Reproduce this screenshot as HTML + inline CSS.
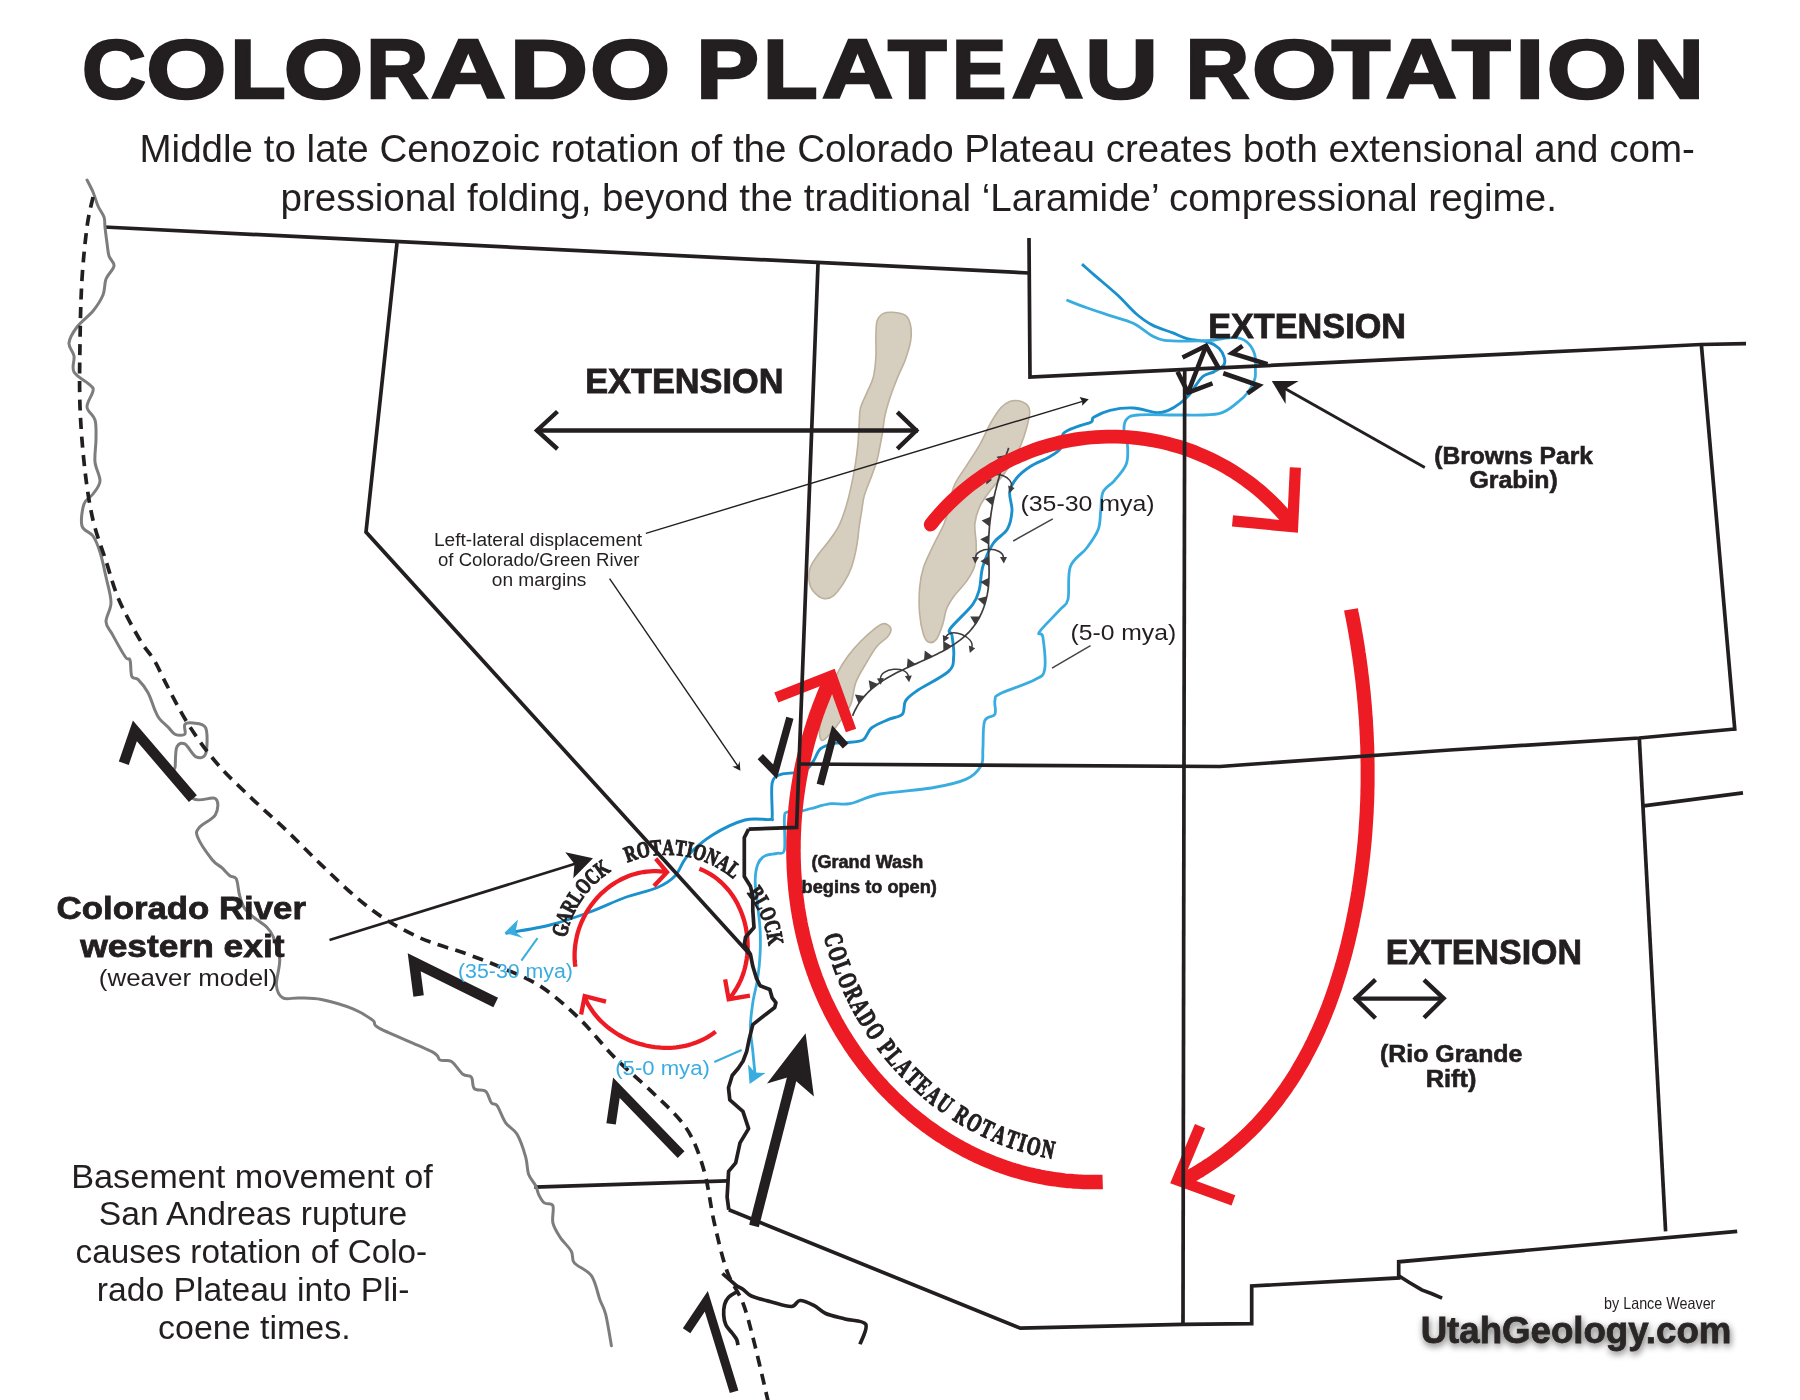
<!DOCTYPE html>
<html><head><meta charset="utf-8"><style>
html,body{margin:0;padding:0;background:#fff;}
svg{display:block;will-change:transform;}
</style></head><body>
<svg width="1800" height="1400" viewBox="0 0 1800 1400">
<defs>
<filter id="sh" x="-10%" y="-40%" width="120%" height="180%"><feGaussianBlur in="SourceAlpha" stdDeviation="3.5"/><feOffset dx="1" dy="3" result="b"/><feComponentTransfer><feFuncA type="linear" slope="0.55"/></feComponentTransfer><feMerge><feMergeNode/><feMergeNode in="SourceGraphic"/></feMerge></filter>
</defs>
<rect width="1800" height="1400" fill="#fff"/>
<path d="M892.6 312.3 C896.2 312.6 902.5 313.2 905.5 315.4 C908.5 317.6 909.8 321.4 910.6 325.7 C911.5 330 911.5 335.6 910.6 341.2 C909.8 346.8 907.6 353.2 905.5 359.2 C903.4 365.2 900.3 370.8 897.7 377.2 C895.1 383.6 892.1 391.3 890 397.7 C887.9 404.1 886.2 409.8 884.9 415.8 C883.6 421.8 883.6 426.5 882.3 433.8 C881 441.1 878.9 452.6 877.2 459.5 C875.5 466.4 874.1 468.9 872 474.9 C869.9 480.9 866 489.5 864.3 495.5 C862.6 501.5 862.6 505.8 861.7 510.9 C860.9 516 860.1 520.4 859.2 526.4 C858.4 532.4 857.9 540 856.6 546.9 C855.3 553.8 853.5 561.5 851.4 567.5 C849.2 573.5 846.7 578.2 843.7 582.9 C840.7 587.6 836.8 593.2 833.4 595.8 C830 598.4 826.6 599.2 823.2 598.4 C819.8 597.5 815.3 593.7 812.9 590.7 C810.5 587.7 809.4 584.3 809 580.4 C808.6 576.5 808.8 571.8 810.3 567.5 C811.8 563.2 815 559 818 554.7 C821 550.4 824.9 546.5 828.3 541.8 C831.7 537.1 835.6 532.4 838.6 526.4 C841.6 520.4 844.2 512.7 846.3 505.8 C848.4 498.9 849.9 492.1 851.4 485.2 C852.9 478.3 854.2 471.5 855.3 464.6 C856.4 457.8 857.2 451 857.9 444.1 C858.5 437.2 858.8 429.5 859.2 423.5 C859.6 417.5 859.2 413.1 860.5 408 C861.8 402.9 864.8 397.7 866.9 392.6 C869 387.5 871.8 383.2 873.3 377.2 C874.8 371.2 875.5 363.5 875.9 356.6 C876.3 349.7 875.7 342 875.9 336 C876.1 330 875.9 324.4 877.2 320.6 C878.5 316.8 881 314.8 883.6 313.4 C886.2 312 889 312 892.6 312.3 Z" fill="#d6cebf" stroke="#bdb09c" stroke-width="1.6" />
<path d="M1018.6 400.8 C1021.6 401.4 1025.9 403.4 1027.7 405.5 C1029.5 407.6 1029.9 409.3 1029.7 413.2 C1029.5 417.1 1027.8 423.5 1026.4 428.6 C1025 433.8 1023.4 439 1021.2 444.1 C1019.1 449.2 1016.5 454.4 1013.5 459.5 C1010.5 464.6 1007.1 469.8 1003.2 474.9 C999.4 480 994.2 485.2 990.4 490.4 C986.5 495.5 982.7 500.2 980.1 505.8 C977.5 511.4 975.5 517.4 974.9 523.8 C974.2 530.2 976.2 537.5 976.2 544.4 C976.2 551.3 976.4 559 974.9 565 C973.4 571 970.6 575.3 967.2 580.4 C963.8 585.5 957.7 591.1 954.3 595.8 C950.9 600.5 948.5 604 946.6 608.7 C944.7 613.4 944.5 619 942.8 624.1 C941.1 629.2 938.7 636.5 936.3 639.5 C933.9 642.5 930.7 643 928.6 642.1 C926.5 641.2 925 639.1 923.5 634.4 C922 629.7 920.2 621.5 919.6 613.8 C919 606.1 919 595.8 919.6 588.1 C920.2 580.4 921.1 574.8 923.5 567.5 C925.9 560.2 930.4 551.7 933.8 544.4 C937.2 537.1 941.5 530.2 944.1 523.8 C946.7 517.4 947.5 512.2 949.2 505.8 C950.9 499.4 951.3 492.1 954.3 485.2 C957.3 478.3 962.9 471.5 967.2 464.6 C971.5 457.8 976.2 451 980.1 444.1 C984 437.2 987 429.5 990.4 423.5 C993.8 417.5 997.4 411.6 1000.6 408 C1003.8 404.4 1006.6 402.8 1009.6 401.6 C1012.6 400.4 1015.6 400.2 1018.6 400.8 Z" fill="#d6cebf" stroke="#bdb09c" stroke-width="1.6" />
<path d="M887.5 624.6 C889 625.5 891 627.4 891 629.5 C891 631.6 889.8 634.2 887.5 637 C885.2 639.8 880.6 641.9 877.2 646 C873.8 650.1 870.5 655.8 867 661.8 C863.5 667.8 858.7 675 856 682 C853.3 689 853.4 697.3 851 703.6 C848.6 709.9 844.9 714.5 841.4 719.6 C837.9 724.7 833.2 730.5 830 734 C826.8 737.5 823.8 741.2 822 740.5 C820.2 739.8 819.3 734.8 819.5 730 C819.7 725.2 821.2 718.3 823 712 C824.8 705.7 827.5 698.7 830 692 C832.5 685.3 835 678 838 672 C841 666 844.3 661 848 656 C851.7 651 855.7 646.4 860 642 C864.3 637.6 869.9 632.6 873.6 629.6 C877.3 626.6 879.7 624.8 882 624 C884.3 623.2 886 623.7 887.5 624.6 Z" fill="#d6cebf" stroke="#bdb09c" stroke-width="1.6" />
<path d="M505.4 933.4 C512.8 932 535.9 928.6 550 925 C564.1 921.4 577.5 916.6 590 912 C602.5 907.4 613.8 901.6 625 897.5 C636.2 893.4 649.2 891.1 657.5 887.5 C665.8 883.9 670 881.2 675 876 C680 870.8 681.2 862.8 687.5 856 C693.8 849.2 702.9 841 712.5 835 C722.1 829 735.5 822.6 745 820 C754.5 817.4 765.3 820.2 769.8 819.5 C774.3 818.8 771.8 821.9 772.2 815.8 C772.6 809.7 770.7 789.8 772.2 782.9 C773.7 776 777 776 781.1 774.3 C785.2 772.6 792.3 773.5 796.6 772.6 C800.9 771.7 804 771.1 806.9 769.1 C809.8 767.1 811.4 764 813.7 760.6 C816 757.2 817.2 751.5 820.6 748.6 C824 745.7 830.1 744.4 834.3 743.4 C838.5 742.4 840.9 743.2 845.7 742.6 C850.5 742 858.6 742.4 862.9 740 C867.2 737.6 867.1 731.4 871.4 728 C875.7 724.6 883.5 721.7 888.6 719.4 C893.8 717.1 899.4 717.4 902.3 714.3 C905.1 711.2 903.1 704.6 905.7 700.6 C908.3 696.6 910.6 695.2 917.7 690.3 C924.9 685.4 942.6 677.1 948.6 671.4 C954.6 665.7 953.1 662 953.7 656 C954.3 650 952.6 640 952 635.4 C951.4 630.8 946.9 633.7 950.3 628.6 C953.7 623.5 967.8 611.2 972.6 604.6 C977.5 598 977.7 595.4 979.4 589.1 C981.1 582.8 980.5 574.3 982.8 566.7 C985.1 559.1 989.2 549.5 993.3 543.3 C997.4 537.1 1004.2 534.7 1007.3 529.3 C1010.4 523.9 1011.6 516.9 1012 510.7 C1012.4 504.5 1008.9 497.4 1009.7 492 C1010.5 486.6 1013.2 482.3 1016.7 478 C1020.2 473.7 1025.3 469.8 1030.7 466.3 C1036.1 462.8 1044.2 460.1 1049.3 457 C1054.3 453.9 1058.7 451.6 1061 447.7 C1063.3 443.8 1060.6 437.2 1063.3 433.7 C1066 430.2 1072.6 428.6 1077.3 426.7 C1082 424.8 1088.6 423.6 1091.3 422 C1094 420.4 1090.6 419.2 1093.7 417.3 C1096.8 415.4 1103.4 411.9 1110 410.3 C1116.6 408.8 1125.5 407.6 1133.3 408 C1141.1 408.4 1150.9 412.3 1156.7 412.7 C1162.5 413.1 1164.4 411.9 1168.3 410.3 C1172.2 408.7 1176.5 405.9 1180 403.3 C1183.5 400.7 1186.7 397.8 1189.3 394.9 C1191.9 391.9 1193.3 388.7 1195.6 385.6 C1197.9 382.5 1200.2 378.5 1203.3 376.2 C1206.4 373.9 1210.8 373.4 1214.2 371.6 C1217.6 369.8 1221.9 367.6 1223.6 365.3 C1225.3 363 1225.1 360.5 1224.3 357.6 C1223.5 354.8 1221.6 350.8 1218.9 348.2 C1216.2 345.6 1213.2 343.6 1208 342 C1202.8 340.4 1193.8 340.4 1187.8 338.9 C1181.8 337.3 1178.2 335 1172.2 332.7 C1166.2 330.4 1158 328 1152 324.9 C1146 321.8 1142.1 318.9 1136.4 314 C1130.7 309.1 1124.8 301.8 1117.8 295.3 C1110.8 288.8 1100.4 280.3 1094.4 275.1 C1088.4 269.9 1084.1 266 1082 264.2" fill="none" stroke="#1a90cd" stroke-width="2.9" stroke-linejoin="round"/>
<path d="M755.2 1076 C754.8 1071.9 753.6 1059.5 752.8 1051.3 C752 1043.1 750.4 1035.1 750.4 1027 C750.4 1018.9 751.6 1010.8 752.8 1002.7 C754 994.6 756.5 986.5 757.7 978.4 C758.9 970.3 759.7 962.3 760.1 954.2 C760.5 946.1 760.5 938 760.1 929.9 C759.7 921.8 758.5 913.7 757.7 905.6 C756.9 897.5 755.2 888.3 755.2 881.4 C755.2 874.5 756.1 868.6 757.7 864.4 C759.3 860.1 761.8 857.7 765 855.9 C768.2 854.1 773.9 854.4 777.1 853.4 C780.3 852.4 783.2 855.6 784.4 849.8 C785.6 843.9 784 824.6 784.4 818.3 C784.8 812 784 813.4 786.8 812.2 C789.6 811 797.3 811.6 801.4 811 C805.5 810.4 806.2 809.7 811.1 808.5 C816 807.3 824 804.5 830.5 803.7 C837 802.9 841.6 805.3 849.9 803.7 C858.1 802.1 866.4 796.6 880 794 C893.6 791.4 917.1 790.4 931.4 788 C945.7 785.6 957.4 783.1 965.7 779.4 C974 775.7 978.2 770.8 981.1 765.7 C984 760.6 982.3 756 982.9 748.6 C983.5 741.2 982.6 726.8 984.6 721.1 C986.6 715.4 993.2 717.7 994.9 714.3 C996.6 710.9 994 704 994.9 700.6 C995.8 697.2 993.4 697.1 1000 693.7 C1006.6 690.3 1026.9 684 1034.3 680 C1041.7 676 1043.2 676.9 1044.6 669.7 C1046 662.6 1043.8 643.4 1042.9 637.1 C1042 630.8 1036.6 636.6 1039.4 632 C1042.2 627.4 1055.2 615.2 1060 609.7 C1064.8 604.2 1066.3 606.5 1068 599.3 C1069.7 592.1 1067.2 575.2 1070.3 566.7 C1073.4 558.2 1082 554.2 1086.7 548 C1091.4 541.8 1096 535.5 1098.3 529.3 C1100.6 523.1 1099.9 516.9 1100.7 510.7 C1101.5 504.5 1100.7 497.1 1103 492 C1105.3 486.9 1110.8 485 1114.7 480.3 C1118.6 475.6 1124.2 469.8 1126.3 464 C1128.4 458.2 1127.9 450.8 1127.5 445.3 C1127.1 439.9 1124.2 435.6 1124 431.3 C1123.8 427 1124 422.4 1126.3 419.7 C1128.6 417 1129 415.8 1138 415 C1147 414.2 1166.5 415.2 1180 415 C1193.5 414.8 1209.1 415.9 1218.9 413.6 C1228.8 411.3 1234.2 404.7 1239.1 401.1 C1244 397.5 1245.8 395.4 1248.4 391.8 C1251 388.2 1253.5 382.9 1254.7 379.3 C1255.9 375.7 1255.4 374.1 1255.4 370 C1255.4 365.9 1256.1 359.1 1254.7 354.4 C1253.3 349.7 1250.3 344.9 1246.9 342 C1243.5 339.1 1240.4 337.6 1234.4 337.3 C1228.4 337 1218.9 339.8 1211.1 340.4 C1203.3 341 1195.6 341.2 1187.8 341.2 C1180 341.2 1170.4 341.3 1164.4 340.4 C1158.4 339.5 1157.2 338.6 1152 335.8 C1146.8 333 1140.3 326.7 1133.3 323.3 C1126.3 319.9 1117.8 318.2 1110 315.6 C1102.2 313 1094 310.4 1086.7 307.8 C1079.4 305.2 1069.8 301.3 1066.4 300" fill="none" stroke="#3aade0" stroke-width="2.8" stroke-linejoin="round"/>
<path d="M749.6 1084 L748 1064.5 L755 1072.5 L765.5 1073 Z" fill="#3aade0" stroke="none" stroke-width="0" />
<path d="M504.5 932.7 L518 919.5 L515.5 932 L523 938 Z" fill="#3aade0" stroke="none" stroke-width="0" />
<path d="M537.5 938.2 L521.4 960.7" fill="none" stroke="#3aade0" stroke-width="2" />
<path d="M714.3 1062 L741.6 1050" fill="none" stroke="#3aade0" stroke-width="2" />
<path d="M1008.7 447.9 L1007.7 450.8 L1006.6 453.7 L1005.6 456.7 L1004.6 459.6 L1003.6 462.5 L1002.6 465.4 L1001.7 468.4 L1000.8 471.3 L999.9 474.2 L999.1 477.2 L998.2 480.1 L997.5 483 L996.7 486 L996 488.9 L995.2 491.9 L994.6 494.8 L993.9 497.8 L993.3 500.8 L992.7 503.7 L992.2 506.7 L991.7 509.7 L991.2 512.6 L990.8 515.6 L990.4 518.6 L990 521.6 L989.7 524.6 L989.4 527.6 L989.2 530.6 L989 533.6 L988.8 536.7 L988.7 539.7 L988.6 542.7 L988.6 545.8 L988.6 548.8 L988.6 551.9 L988.7 554.9 L988.8 558 L988.9 561.1 L989 564.2 L989 567.2 L989.1 570.3 L989.1 573.4 L989 576.5 L988.9 579.5 L988.8 582.6 L988.5 585.7 L988.2 588.8 L987.7 591.8 L987.2 594.9 L986.5 597.9 L985.8 600.9 L984.9 603.9 L984 606.8 L982.9 609.7 L981.7 612.6 L980.4 615.3 L979.1 618 L977.6 620.6 L976 623.2 L974.3 625.6 L972.5 627.9 L970.6 630.2 L968.7 632.3 L966.6 634.4 L964.5 636.4 L962.2 638.3 L960 640.2 L957.6 641.9 L955.2 643.6 L952.7 645.3 L950.1 646.9 L947.6 648.4 L944.9 649.9 L942.2 651.4 L939.5 652.8 L936.8 654.2 L934 655.6 L931.2 656.9 L928.3 658.2 L925.5 659.5 L922.6 660.8 L919.8 662.1 L916.9 663.4 L914 664.6 L911.1 665.9 L908.3 667.2 L905.4 668.5 L902.6 669.9 L899.8 671.2 L897 672.6 L894.3 674 L891.6 675.5 L888.9 677 L886.3 678.5 L883.7 680.1 L881.2 681.7 L878.7 683.4 L876.3 685.2 L874 687 L871.7 688.9 L869.5 690.9 L867.4 693 L865.4 695.1 L863.4 697.4 L861.6 699.7 L859.8 702.1 L858.1 704.6 L856.6 707.3 L855.2 710 L853.8 712.9 L852.6 715.8" fill="none" stroke="#3d3b3c" stroke-width="1.7" />
<path d="M1006.1 455 L1003 464.1 L996.5 456.8 Z M994.3 496.1 L992.4 505.5 L985 499 Z M990.6 516.8 L989.5 526.4 L981.6 520.6 Z M988.9 534.9 L988.5 544.5 L980.2 539.3 Z M988.7 556.3 L989 565.9 L980.4 561.3 Z M989 577.8 L988.5 587.4 L980.3 582.1 Z M987 596.3 L984.6 605.6 L977.5 598.8 Z M979.9 616.5 L975.2 624.8 L970.2 616.5 Z M951.7 646 L943.4 650.9 L943.2 641.1 Z M932.7 656.2 L924 660.2 L924.8 650.5 Z M915.5 664 L906.8 667.9 L907.7 658.2 Z M877.8 684.1 L870.2 690 L868.7 680.3 Z M864.6 695.9 L858.6 703.4 L854.9 694.4 Z" fill="#3d3b3c" stroke="none" stroke-width="0" />
<path d="M988.5 479.5 C992.5 468.7 1015 476.9 1011.1 487.8" fill="none" stroke="#3d3b3c" stroke-width="1.5" />
<path d="M986.4 484.6 L985.6 477.4 L992.2 479.8 Z" fill="#3d3b3c" stroke="none" stroke-width="0" />
<path d="M1009.4 493 L1008.1 485.6 L1014.7 488 Z" fill="#3d3b3c" stroke="none" stroke-width="0" />
<path d="M975.5 558 C975.5 546.4 1003.5 546.4 1003.5 558" fill="none" stroke="#3d3b3c" stroke-width="1.5" />
<path d="M975.2 563.5 L972 557 L979 557 Z" fill="#3d3b3c" stroke="none" stroke-width="0" />
<path d="M1003.8 563.5 L1000 557 L1007 557 Z" fill="#3d3b3c" stroke="none" stroke-width="0" />
<path d="M945.7 637.3 C950 626.6 976 637.1 971.6 647.8" fill="none" stroke="#3d3b3c" stroke-width="1.5" />
<path d="M943.3 642.3 L942.8 635.1 L949.3 637.7 Z" fill="#3d3b3c" stroke="none" stroke-width="0" />
<path d="M969.8 653 L968.8 645.6 L975.2 648.2 Z" fill="#3d3b3c" stroke="none" stroke-width="0" />
<path d="M880.5 679.2 C879.5 667.6 907.4 665.2 908.4 676.7" fill="none" stroke="#3d3b3c" stroke-width="1.5" />
<path d="M880.7 684.7 L876.9 678.5 L883.9 677.9 Z" fill="#3d3b3c" stroke="none" stroke-width="0" />
<path d="M909.1 682.2 L904.8 676 L911.8 675.4 Z" fill="#3d3b3c" stroke="none" stroke-width="0" />
<path d="M930.7 524.5 L934 520.4 L937.4 516.4 L940.8 512.5 L944.3 508.7 L948 504.9 L951.7 501.3 L955.5 497.7 L959.3 494.2 L963.3 490.8 L967.3 487.5 L971.4 484.2 L975.6 481.1 L979.8 478.1 L984.1 475.1 L988.5 472.3 L992.9 469.5 L997.4 466.9 L1002 464.4 L1006.6 461.9 L1011.2 459.6 L1016 457.4 L1020.7 455.3 L1025.5 453.3 L1030.4 451.4 L1035.3 449.6 L1040.2 447.9 L1045.2 446.3 L1050.2 444.9 L1055.3 443.6 L1060.3 442.3 L1065.4 441.2 L1070.6 440.3 L1075.7 439.4 L1080.9 438.6 L1086 438 L1091.2 437.5 L1096.4 437.1 L1101.6 436.8 L1106.9 436.6 L1112.1 436.6 L1117.3 436.7 L1122.5 436.9 L1127.7 437.2 L1132.9 437.6 L1138.1 438.2 L1143.3 438.8 L1148.4 439.6 L1153.6 440.5 L1158.7 441.5 L1163.8 442.6 L1168.8 443.9 L1173.9 445.3 L1178.9 446.7 L1183.8 448.3 L1188.8 450 L1193.6 451.8 L1198.5 453.8 L1203.3 455.8 L1208.1 457.9 L1212.8 460.2 L1217.4 462.5 L1222 465 L1226.6 467.6 L1231 470.2 L1235.5 473 L1239.8 475.9 L1244.1 478.8 L1248.3 481.9 L1252.5 485.1 L1256.6 488.3 L1260.6 491.6 L1264.5 495.1 L1268.3 498.6 L1272.1 502.2 L1275.8 505.9 L1279.4 509.7 L1282.9 513.5 L1286.3 517.5 L1289.6 521.5" fill="none" stroke="#ed1c24" stroke-width="13.8" stroke-linecap="round"/>
<path d="M1295.4 467.5 L1292.6 526.7 L1232.5 520.9" fill="none" stroke="#ed1c24" stroke-width="11.2" stroke-linejoin="miter" stroke-miterlimit="10"/>
<path d="M1351 609.4 L1351.5 612.3 L1352.1 615.1 L1352.7 618 L1353.2 620.9 L1353.8 623.8 L1354.3 626.6 L1354.8 629.5 L1355.3 632.4 L1355.8 635.3 L1356.3 638.2 L1356.8 641.1 L1357.3 644.1 L1357.7 647 L1358.2 649.9 L1358.6 652.8 L1359.1 655.8 L1359.5 658.7 L1359.9 661.6 L1360.3 664.6 L1360.7 667.5 L1361.1 670.5 L1361.4 673.5 L1361.8 676.4 L1362.2 679.4 L1362.5 682.3 L1362.8 685.3 L1363.1 688.3 L1363.5 691.3 L1363.8 694.3 L1364 697.2 L1364.3 700.2 L1364.6 703.2 L1364.8 706.2 L1365.1 709.2 L1365.3 712.2 L1365.5 715.2 L1365.8 718.2 L1366 721.2 L1366.1 724.3 L1366.3 727.3 L1366.5 730.3 L1366.6 733.3 L1366.8 736.3 L1366.9 739.4 L1367 742.4 L1367.2 745.4 L1367.3 748.4 L1367.3 751.5 L1367.4 754.5 L1367.5 757.5 L1367.5 760.6 L1367.6 763.6 L1367.6 766.6 L1367.6 769.7 L1367.6 772.7 L1367.6 775.8 L1367.6 778.8 L1367.6 781.8 L1367.6 784.9 L1367.5 787.9 L1367.4 791 L1367.4 794 L1367.3 797.1 L1367.2 800.1 L1367.1 803.2 L1366.9 806.2 L1366.8 809.3 L1366.7 812.3 L1366.5 815.4 L1366.3 818.4 L1366.1 821.5 L1365.9 824.5 L1365.7 827.6 L1365.5 830.6 L1365.3 833.6 L1365 836.7 L1364.8 839.7 L1364.5 842.8 L1364.2 845.8 L1363.9 848.9 L1363.6 851.9 L1363.3 854.9 L1362.9 858 L1362.6 861 L1362.2 864.1 L1361.8 867.1 L1361.5 870.1 L1361.1 873.2 L1360.6 876.2 L1360.2 879.2 L1359.8 882.2 L1359.3 885.3 L1358.8 888.3 L1358.4 891.3 L1357.9 894.3 L1357.4 897.4 L1356.8 900.4 L1356.3 903.4 L1355.8 906.4 L1355.2 909.4 L1354.6 912.4 L1354 915.4 L1353.4 918.4 L1352.8 921.4 L1352.2 924.4 L1351.5 927.4 L1350.9 930.4 L1350.2 933.3 L1349.5 936.3 L1348.8 939.3 L1348.1 942.3 L1347.4 945.2 L1346.6 948.2 L1345.9 951.2 L1345.1 954.1 L1344.3 957.1 L1343.5 960 L1342.7 962.9 L1341.8 965.9 L1341 968.8 L1340.1 971.7 L1339.2 974.6 L1338.3 977.5 L1337.4 980.4 L1336.5 983.3 L1335.6 986.2 L1334.6 989.1 L1333.6 992 L1332.6 994.8 L1331.6 997.7 L1330.6 1000.5 L1329.5 1003.4 L1328.5 1006.2 L1327.4 1009 L1326.3 1011.8 L1325.2 1014.6 L1324 1017.4 L1322.9 1020.2 L1321.7 1023 L1320.5 1025.7 L1319.3 1028.5 L1318.1 1031.2 L1316.8 1033.9 L1315.5 1036.7 L1314.3 1039.4 L1313 1042.1 L1311.6 1044.7 L1310.3 1047.4 L1308.9 1050.1 L1307.5 1052.7 L1306.1 1055.3 L1304.7 1058 L1303.3 1060.6 L1301.8 1063.2 L1300.3 1065.7 L1298.8 1068.3 L1297.3 1070.8 L1295.8 1073.4 L1294.2 1075.9 L1292.6 1078.4 L1291 1080.9 L1289.4 1083.4 L1287.7 1085.8 L1286.1 1088.3 L1284.4 1090.7 L1282.6 1093.1 L1280.9 1095.5 L1279.1 1097.9 L1277.4 1100.3 L1275.6 1102.6 L1273.7 1104.9 L1271.9 1107.2 L1270 1109.5 L1268.1 1111.8 L1266.2 1114.1 L1264.3 1116.3 L1262.3 1118.5 L1260.3 1120.7 L1258.3 1122.9 L1256.3 1125.1 L1254.2 1127.2 L1252.1 1129.3 L1250 1131.5 L1247.9 1133.5 L1245.7 1135.6 L1243.5 1137.6 L1241.3 1139.7 L1239.1 1141.7 L1236.8 1143.6 L1234.5 1145.6 L1232.2 1147.5 L1229.9 1149.5 L1227.6 1151.4 L1225.2 1153.2 L1222.8 1155.1 L1220.3 1156.9 L1217.9 1158.7 L1215.4 1160.5 L1212.9 1162.2 L1210.3 1164 L1207.7 1165.7 L1205.2 1167.4 L1202.5 1169 L1199.9 1170.7 L1197.2 1172.3 L1194.5 1173.9 L1191.8 1175.4 L1189 1176.9 L1186.2 1178.5 L1183.4 1179.9 L1180.6 1181.4" fill="none" stroke="#ed1c24" stroke-width="14" />
<path d="M1200 1126.2 L1177.5 1180 L1233.4 1200.4" fill="none" stroke="#ed1c24" stroke-width="11" stroke-linejoin="miter" stroke-miterlimit="10"/>
<path d="M1102.7 1181.9 L1099.5 1182 L1096.3 1182 L1093.1 1182 L1089.9 1182 L1086.8 1182 L1083.6 1181.9 L1080.5 1181.7 L1077.3 1181.6 L1074.2 1181.4 L1071.1 1181.1 L1068 1180.9 L1064.9 1180.6 L1061.8 1180.2 L1058.7 1179.8 L1055.6 1179.4 L1052.6 1179 L1049.5 1178.5 L1046.5 1178 L1043.5 1177.4 L1040.5 1176.9 L1037.5 1176.2 L1034.5 1175.6 L1031.5 1174.9 L1028.5 1174.2 L1025.6 1173.5 L1022.6 1172.7 L1019.7 1171.9 L1016.8 1171 L1013.9 1170.2 L1011 1169.3 L1008.1 1168.3 L1005.2 1167.4 L1002.3 1166.4 L999.5 1165.3 L996.7 1164.3 L993.8 1163.2 L991 1162.1 L988.3 1160.9 L985.5 1159.8 L982.7 1158.6 L980 1157.3 L977.2 1156.1 L974.5 1154.8 L971.8 1153.5 L969.1 1152.1 L966.4 1150.7 L963.8 1149.3 L961.1 1147.9 L958.5 1146.5 L955.9 1145 L953.3 1143.5 L950.7 1142 L948.1 1140.4 L945.6 1138.8 L943 1137.2 L940.5 1135.6 L938 1133.9 L935.5 1132.2 L933.1 1130.5 L930.6 1128.8 L928.2 1127 L925.8 1125.3 L923.4 1123.5 L921 1121.6 L918.6 1119.8 L916.3 1117.9 L913.9 1116 L911.6 1114.1 L909.3 1112.1 L907.1 1110.2 L904.8 1108.2 L902.6 1106.2 L900.4 1104.2 L898.2 1102.1 L896 1100 L893.8 1098 L891.7 1095.8 L889.6 1093.7 L887.5 1091.6 L885.4 1089.4 L883.3 1087.2 L881.3 1085 L879.3 1082.8 L877.3 1080.5 L875.3 1078.3 L873.3 1076 L871.4 1073.7 L869.5 1071.4 L867.6 1069 L865.7 1066.7 L863.8 1064.3 L862 1061.9 L860.2 1059.5 L858.4 1057.1 L856.7 1054.6 L854.9 1052.2 L853.2 1049.7 L851.5 1047.2 L849.8 1044.7 L848.2 1042.2 L846.6 1039.7 L845 1037.1 L843.4 1034.6 L841.8 1032 L840.3 1029.4 L838.8 1026.8 L837.3 1024.2 L835.8 1021.6 L834.4 1018.9 L833 1016.3 L831.6 1013.6 L830.2 1010.9 L828.9 1008.2 L827.6 1005.5 L826.3 1002.8 L825 1000.1 L823.8 997.3 L822.6 994.6 L821.4 991.8 L820.2 989 L819.1 986.3 L818 983.5 L816.9 980.7 L815.8 977.9 L814.8 975 L813.8 972.2 L812.8 969.4 L811.8 966.5 L810.9 963.7 L810 960.8 L809.1 957.9 L808.3 955 L807.4 952.1 L806.6 949.2 L805.8 946.3 L805.1 943.4 L804.3 940.5 L803.6 937.6 L802.9 934.6 L802.3 931.7 L801.6 928.8 L801 925.8 L800.4 922.8 L799.9 919.9 L799.3 916.9 L798.8 913.9 L798.3 910.9 L797.8 908 L797.4 905 L797 902 L796.6 899 L796.2 896 L795.9 893 L795.5 890 L795.2 886.9 L795 883.9 L794.7 880.9 L794.5 877.9 L794.3 874.9 L794.1 871.8 L793.9 868.8 L793.8 865.8 L793.7 862.7 L793.6 859.7 L793.5 856.7 L793.5 853.6 L793.4 850.6 L793.5 847.6 L793.5 844.5 L793.5 841.5 L793.6 838.4 L793.7 835.4 L793.8 832.4 L794 829.3 L794.1 826.3 L794.3 823.2 L794.5 820.2 L794.7 817.2 L795 814.1 L795.3 811.1 L795.6 808.1 L795.9 805.1 L796.3 802 L796.6 799 L797 796 L797.4 793 L797.9 790 L798.3 787 L798.8 783.9 L799.3 780.9 L799.8 777.9 L800.4 775 L800.9 772 L801.5 769 L802.1 766 L802.8 763 L803.4 760.1 L804.1 757.1 L804.8 754.1 L805.5 751.2 L806.3 748.2 L807 745.3 L807.8 742.4 L808.6 739.4 L809.4 736.5 L810.3 733.6 L811.2 730.7 L812.1 727.8 L813 724.9 L813.9 722 L814.9 719.2 L815.8 716.3 L816.8 713.4 L817.9 710.6 L818.9 707.7 L820 704.9 L821.1 702.1 L822.2 699.3 L823.3 696.5 L824.4 693.7 L825.6 690.9 L826.8 688.1 L828 685.4 L829.2 682.6" fill="none" stroke="#ed1c24" stroke-width="14.5" />
<path d="M776.3 697.5 L831.4 676 L851 730.5" fill="none" stroke="#ed1c24" stroke-width="11" stroke-linejoin="miter" stroke-miterlimit="10"/>
<path d="M575.4 966.7 L575 963.5 L574.7 960.3 L574.6 957.2 L574.6 954 L574.7 950.9 L575 947.8 L575.3 944.7 L575.8 941.6 L576.4 938.6 L577 935.6 L577.8 932.6 L578.7 929.6 L579.7 926.7 L580.9 923.8 L582.1 921 L583.4 918.2 L584.8 915.5 L586.2 912.8 L587.8 910.2 L589.5 907.6 L591.3 905.1 L593.1 902.7 L595 900.3 L597 898 L599.1 895.8 L601.2 893.6 L603.5 891.6 L605.8 889.6 L608.1 887.7 L610.6 885.8 L613.1 884.1 L615.6 882.5 L618.2 881 L620.9 879.5 L623.6 878.2 L626.4 877 L629.2 875.8 L632.1 874.8 L635 874 L638 873.2 L641 872.5 L644.1 872 L647.2 871.6 L650.3 871.3 L653.4 871.2 L656.6 871.2 L659.9 871.3 L663.1 871.6 L666.4 872.1" fill="none" stroke="#ed1c24" stroke-width="4.3" />
<path d="M655.7 858.6 L667 872.2 L654 886" fill="none" stroke="#ed1c24" stroke-width="4.3" stroke-linejoin="miter"/>
<path d="M699.4 868.7 L702.3 869.9 L705.2 871.3 L708 872.8 L710.7 874.4 L713.3 876.1 L715.9 877.9 L718.3 879.8 L720.6 881.9 L722.9 884 L725 886.2 L727.1 888.5 L729.1 890.8 L730.9 893.3 L732.7 895.8 L734.4 898.4 L736 901.1 L737.5 903.8 L738.8 906.6 L740.1 909.4 L741.3 912.3 L742.4 915.2 L743.4 918.2 L744.3 921.2 L745.1 924.2 L745.8 927.3 L746.3 930.3 L746.8 933.4 L747.2 936.5 L747.4 939.7 L747.6 942.8 L747.7 945.9 L747.6 949.1 L747.5 952.2 L747.2 955.3 L746.8 958.4 L746.3 961.5 L745.7 964.5 L745 967.5 L744.2 970.5 L743.3 973.5 L742.2 976.4 L741.1 979.3 L739.8 982.1 L738.4 984.9 L736.9 987.6 L735.3 990.3 L733.6 992.9 L731.8 995.4 L729.8 997.8" fill="none" stroke="#ed1c24" stroke-width="4.3" />
<path d="M725.1 979.4 L728.7 999.2 L749.9 995.7" fill="none" stroke="#ed1c24" stroke-width="4.3" stroke-linejoin="miter"/>
<path d="M715.7 1031.6 L713.2 1033.5 L710.6 1035.2 L708 1036.9 L705.3 1038.4 L702.5 1039.8 L699.7 1041.1 L696.9 1042.3 L694 1043.3 L691.1 1044.3 L688.2 1045.1 L685.2 1045.8 L682.2 1046.4 L679.2 1046.9 L676.2 1047.3 L673.1 1047.6 L670.1 1047.8 L667 1047.8 L663.9 1047.8 L660.9 1047.7 L657.8 1047.4 L654.8 1047.1 L651.7 1046.7 L648.7 1046.1 L645.7 1045.5 L642.7 1044.7 L639.7 1043.9 L636.8 1043 L633.9 1042 L631 1040.9 L628.2 1039.7 L625.4 1038.4 L622.6 1037 L619.9 1035.5 L617.3 1034 L614.7 1032.3 L612.2 1030.6 L609.7 1028.8 L607.3 1026.9 L605 1024.9 L602.7 1022.8 L600.5 1020.7 L598.4 1018.5 L596.4 1016.2 L594.5 1013.8 L592.6 1011.3 L590.9 1008.8 L589.2 1006.2 L587.6 1003.6 L586.2 1000.8 L584.9 998" fill="none" stroke="#ed1c24" stroke-width="4.3" />
<path d="M581.1 1014.5 L584.7 996.1 L606 1001.7" fill="none" stroke="#ed1c24" stroke-width="4.3" stroke-linejoin="miter"/>
<path d="M104 227 L1029 273" fill="none" stroke="#231f20" stroke-width="3.7" />
<path d="M1029 238 L1030 377 L1150 371.2 L1600 349.5 L1701 344.5 L1746 343.7" fill="none" stroke="#231f20" stroke-width="3.7" stroke-linejoin="miter"/>
<path d="M1701.4 345 L1734.9 730.8" fill="none" stroke="#231f20" stroke-width="3.7" />
<path d="M818 264 L796.6 827.4 L748.6 829.1" fill="none" stroke="#231f20" stroke-width="3.7" />
<path d="M397 243 L366 532 L749.7 954.3" fill="none" stroke="#231f20" stroke-width="3.7" />
<path d="M799.4 764 L1220 766.5 L1450 750 L1639 738 L1735 729" fill="none" stroke="#231f20" stroke-width="3.7" />
<path d="M1184.7 371 L1183 1324.5" fill="none" stroke="#231f20" stroke-width="3.7" />
<path d="M1639.3 738 L1665.6 1231.3" fill="none" stroke="#231f20" stroke-width="3.7" />
<path d="M1643.6 805.8 L1743 792.9" fill="none" stroke="#231f20" stroke-width="3.7" />
<path d="M1737.2 1231.3 L1398.7 1261.8 L1398.7 1277.9 L1251.7 1286 L1251.7 1323.6 L1182.7 1324.4 L1020.4 1328.2 L728.8 1209.8" fill="none" stroke="#231f20" stroke-width="3.7" stroke-linejoin="miter"/>
<path d="M1398.7 1275.8 L1408.9 1282.2 L1421.7 1289.9 L1431.9 1293.7 L1442.1 1298.1" fill="none" stroke="#231f20" stroke-width="3.7" />
<path d="M534.3 1187.1 L727.2 1180.9" fill="none" stroke="#231f20" stroke-width="3.7" />
<path d="M748.6 829.1 L744.3 837.7 L744.3 857.1 L744.3 876.5 L750.4 886.2 L752.8 895.9 L752.8 910.5 L754 927.5 L745.5 937.2 L744.3 944.5 L750.4 954.2 L752.8 966.3 L756.5 978.4 L760.1 985.7 L769.8 989.4 L772.2 997.9 L775.9 1002.7 L774.7 1007.6 L765 1014.9 L752.8 1024.6 L749.2 1039.1 L746.7 1051.3 L743.1 1061 L738.3 1068.2 L732.2 1075.5 L728.5 1087.7 L729.8 1099.8 L742.9 1111.4 L748.6 1128.6 L740 1142.9 L735.7 1162.9 L728.6 1171.4 L727.1 1197.1 L728.8 1209.8" fill="none" stroke="#231f20" stroke-width="3.7" stroke-linejoin="round"/>
<path d="M722.5 1273.5 C723.8 1274.7 728 1278.4 730.4 1280.4 C732.8 1282.4 734.5 1284.2 736.6 1285.7 C738.7 1287.2 740.4 1287.6 742.9 1289.3 C745.4 1291 746.9 1294 751.4 1296 C755.9 1298 763.3 1299.8 770 1301.5 C776.7 1303.2 786.4 1306.7 791.4 1306.5 C796.4 1306.3 796.2 1300.6 800 1300.5 C803.8 1300.4 810 1303.5 814.3 1305.7 C818.6 1307.9 820.6 1311.3 825.7 1313.5 C830.8 1315.7 838.3 1317.2 845 1319 C851.7 1320.8 863.2 1320.1 865.7 1324.3 C868.2 1328.5 861 1341 860 1344.3" fill="none" stroke="#231f20" stroke-width="3.7" />
<path d="M737.5 1291.5 C736 1292.5 730.8 1295.1 728.6 1297.3 C726.5 1299.5 725.4 1301.5 724.6 1304.5 C723.8 1307.5 723.5 1311.8 723.7 1315.2 C723.9 1318.6 724.5 1322 725.9 1325 C727.3 1328 730.3 1330.6 732.1 1333 C733.9 1335.4 735.6 1337.3 736.6 1339.3 C737.6 1341.3 737.7 1344.1 737.9 1345.1" fill="none" stroke="#231f20" stroke-width="3.7" />
<path d="M87 180 C88 182 91.2 187.7 93 192 C94.8 196.3 96.2 201.8 98 206 C99.8 210.2 102.8 213.5 104 217 C105.2 220.5 104.5 222.7 105 227 C105.5 231.3 106.3 238.2 107 243 C107.7 247.8 107.8 252.2 109 256 C110.2 259.8 114.5 262.2 114 266 C113.5 269.8 107.8 274.2 106 279 C104.2 283.8 105.2 289.7 103 295 C100.8 300.3 97.3 305.7 93 311 C88.7 316.3 81 321.7 77 327 C73 332.3 69.5 338.2 69 343 C68.5 347.8 73.2 351.2 74 356 C74.8 360.8 71.3 367.2 74 372 C76.7 376.8 86.8 381.8 90 385 C93.2 388.2 93.5 387.3 93 391 C92.5 394.7 86.7 402.2 87 407 C87.3 411.8 93.5 414.7 95 420 C96.5 425.3 96 432 96 439 C96 446 94.3 455 95 462 C95.7 469 100.3 475.7 100 481 C99.7 486.3 95.7 490.2 93 494 C90.3 497.8 85.8 498.7 84 504 C82.2 509.3 80.5 520.7 82 526 C83.5 531.3 90 531.7 93 536 C96 540.3 97.8 545.2 100 552 C102.2 558.8 104.2 568.6 106 577 C107.8 585.4 111 595 111 602.5 C111 610 105.8 616.4 106 621.8 C106.2 627.1 109.3 628.7 112.5 634.6 C115.7 640.5 122.5 652.8 125.4 657 C128.3 661.2 128.9 656.8 130 660 C131.1 663.2 130.4 673.1 131.8 676.4 C133.2 679.7 135.5 676.9 138.2 679.6 C140.9 682.3 145.2 687.7 147.9 692.5 C150.6 697.3 152.5 704.3 154.3 708.6 C156.2 712.9 156.6 715 159 718.2 C161.4 721.4 166.1 725.2 168.8 727.9 C171.5 730.6 172.5 733.2 175.2 734.3 C177.9 735.4 183.2 735.9 184.8 734.3 C186.4 732.7 183.5 726.5 184.8 724.6 C186.2 722.7 189.4 722.5 192.9 723 C196.4 723.5 203.6 722.8 205.7 727.9 C207.8 733 207.3 748.8 205.7 753.6 C204.1 758.4 199.5 758.4 196 756.8 C192.5 755.2 188 745.5 184.8 743.9 C181.6 742.3 178.4 743.4 176.8 747.1 C175.2 750.9 175.5 762.1 175.2 766.4 C174.9 770.7 172.2 767.5 175.2 772.9 C178.1 778.3 186.2 794.3 192.9 798.6 C199.6 802.9 211.7 795.9 215.4 798.6 C219.2 801.3 218.1 809.9 215.4 814.7 C212.7 819.5 202.2 823.8 199.3 827.5 C196.4 831.2 195.5 831.8 197.7 837.2 C199.8 842.6 208.2 854.6 212.2 859.7 C216.2 864.8 218.9 865 221.8 867.7 C224.7 870.4 227.4 873.8 229.8 875.7 C232.2 877.6 234.7 875.7 236.3 878.9 C237.9 882.1 238.2 890.2 239.5 895 C240.8 899.8 241.9 904.1 244.3 907.9 C246.7 911.6 250.2 914.3 253.9 917.5 C257.6 920.7 263.6 924 266.8 927.2 C270 930.4 271.1 931.4 273.2 936.8 C275.3 942.1 279.2 951.3 279.7 959.3 C280.2 967.3 275.9 978.6 276.4 985 C276.9 991.4 279.1 995.8 282.9 997.9 C286.6 1000 292.5 997.6 298.9 997.9 C305.3 998.2 312.3 997.6 321.4 999.5 C330.5 1001.4 345 1005.6 353.6 1009.1 C362.2 1012.6 368.5 1017.1 372.9 1020.4 C377.3 1023.6 370.2 1023.4 380 1028.6 C389.8 1033.8 421.4 1046.2 431.4 1051.4 C441.4 1056.6 436.7 1058.3 440 1060 C443.3 1061.7 447.6 1059 451.4 1061.4 C455.2 1063.8 459.6 1071.7 462.9 1074.3 C466.2 1076.9 469.5 1074.7 471.4 1077.1 C473.3 1079.5 471.9 1086.2 474.3 1088.6 C476.7 1091 482.9 1089 485.7 1091.4 C488.5 1093.8 489.5 1100.5 491.4 1102.9 C493.3 1105.3 494.7 1102.4 497.1 1105.7 C499.5 1109 502.4 1118.1 505.7 1122.9 C509 1127.7 513.8 1128.6 517.1 1134.3 C520.4 1140 523.8 1150.4 525.7 1157.1 C527.6 1163.8 526.9 1169.5 528.6 1174.3 C530.3 1179.1 534 1182.4 535.7 1185.7 C537.4 1189 537.2 1191.4 538.6 1194.3 C540 1197.2 541.9 1201 544.3 1202.9 C546.7 1204.8 551.5 1202.4 552.9 1205.7 C554.3 1209 551.7 1217.7 552.9 1222.9 C554.1 1228.1 556.9 1232.3 560 1237.1 C563.1 1241.8 569 1247.1 571.4 1251.4 C573.8 1255.7 571 1258.9 574.3 1262.9 C577.6 1267 587.1 1269.5 591.4 1275.7 C595.7 1281.9 597.6 1293.6 600 1300 C602.4 1306.4 603.8 1306.7 605.7 1314.3 C607.6 1321.9 610.5 1340.5 611.4 1345.7" fill="none" stroke="#7d7d7d" stroke-width="3" stroke-linejoin="round" stroke-linecap="round"/>
<path d="M93 197 C92 202 88.8 213.3 87 227 C85.2 240.7 83.2 259.7 82 279 C80.8 298.3 80.3 321.7 80 343 C79.7 364.3 79.2 385.7 80 407 C80.8 428.3 82.8 452.2 85 471 C87.2 489.8 89.5 505 93 520 C96.5 535 101.7 547.7 106 561 C110.3 574.3 113.3 586.8 119 600 C124.7 613.2 134.1 629.9 140 640 C145.9 650.1 149.8 652.9 154.3 660.4 C158.8 667.9 161.1 674.3 166.8 685.1 C172.5 695.9 180.3 711.9 188.7 725 C197.1 738.1 206.5 751.3 217 763.5 C227.5 775.7 240 787.1 251.7 798.3 C263.3 809.5 275.3 819.8 286.9 830.9 C298.5 842 309.6 853.6 321.1 864.6 C332.6 875.6 345.2 888 356 897.1 C366.8 906.2 375.5 912.9 385.7 919.5 C395.9 926.1 408.2 932.3 417.1 936.6 C426.1 940.9 431.8 942.4 439.4 945.1 C447 947.8 452.8 949 462.9 952.6 C473 956.2 487 961.4 500 967 C513 972.6 527.5 977.8 540.7 986.4 C553.9 995 567 1006.8 579.3 1018.6 C591.6 1030.4 602.3 1045 614.3 1057.1 C626.3 1069.2 640.4 1080.9 651.4 1091.4 C662.4 1101.9 672.9 1111.4 680 1120 C687.1 1128.6 690 1133.4 694.3 1142.9 C698.6 1152.4 702.4 1163.8 705.7 1177.1 C709 1190.4 710.7 1207.2 714.3 1222.9 C717.9 1238.6 722.3 1258.1 727.1 1271.4 C731.9 1284.7 738.4 1291 742.9 1302.9 C747.4 1314.8 750.3 1327.2 754.3 1342.9 C758.3 1358.6 764.8 1387.2 767.1 1397.1 C769.4 1406.9 767.9 1401.2 768 1402" fill="none" stroke="#231f20" stroke-width="3.7" stroke-dasharray="11 7.5"/>
<text transform="translate(567.6 931.9) rotate(-75.5) scale(0.716 1)" text-anchor="middle" font-family="Liberation Serif, serif" font-weight="bold" font-size="22.5" fill="#231f20" stroke="#231f20" stroke-width="1.1">G</text>
<text transform="translate(571.2 920.4) rotate(-68.8) scale(0.716 1)" text-anchor="middle" font-family="Liberation Serif, serif" font-weight="bold" font-size="22.5" fill="#231f20" stroke="#231f20" stroke-width="1.1">A</text>
<text transform="translate(576 909.8) rotate(-62.6) scale(0.716 1)" text-anchor="middle" font-family="Liberation Serif, serif" font-weight="bold" font-size="22.5" fill="#231f20" stroke="#231f20" stroke-width="1.1">R</text>
<text transform="translate(581.7 900.2) rotate(-56.4) scale(0.716 1)" text-anchor="middle" font-family="Liberation Serif, serif" font-weight="bold" font-size="22.5" fill="#231f20" stroke="#231f20" stroke-width="1.1">L</text>
<text transform="translate(588.7 890.9) rotate(-49.8) scale(0.716 1)" text-anchor="middle" font-family="Liberation Serif, serif" font-weight="bold" font-size="22.5" fill="#231f20" stroke="#231f20" stroke-width="1.1">O</text>
<text transform="translate(597.1 882.2) rotate(-43.1) scale(0.716 1)" text-anchor="middle" font-family="Liberation Serif, serif" font-weight="bold" font-size="22.5" fill="#231f20" stroke="#231f20" stroke-width="1.1">C</text>
<text transform="translate(606.4 874.5) rotate(-36.4) scale(0.716 1)" text-anchor="middle" font-family="Liberation Serif, serif" font-weight="bold" font-size="22.5" fill="#231f20" stroke="#231f20" stroke-width="1.1">K</text>
<text transform="translate(632.9 860.5) rotate(-19.3) scale(0.736 1)" text-anchor="middle" font-family="Liberation Serif, serif" font-weight="bold" font-size="22.5" fill="#231f20" stroke="#231f20" stroke-width="1.1">R</text>
<text transform="translate(644.9 857.1) rotate(-12.6) scale(0.736 1)" text-anchor="middle" font-family="Liberation Serif, serif" font-weight="bold" font-size="22.5" fill="#231f20" stroke="#231f20" stroke-width="1.1">O</text>
<text transform="translate(656.7 855.2) rotate(-6) scale(0.736 1)" text-anchor="middle" font-family="Liberation Serif, serif" font-weight="bold" font-size="22.5" fill="#231f20" stroke="#231f20" stroke-width="1.1">T</text>
<text transform="translate(668.2 854.7) rotate(0.7) scale(0.736 1)" text-anchor="middle" font-family="Liberation Serif, serif" font-weight="bold" font-size="22.5" fill="#231f20" stroke="#231f20" stroke-width="1.1">A</text>
<text transform="translate(679.7 855.5) rotate(7.4) scale(0.736 1)" text-anchor="middle" font-family="Liberation Serif, serif" font-weight="bold" font-size="22.5" fill="#231f20" stroke="#231f20" stroke-width="1.1">T</text>
<text transform="translate(688.3 857) rotate(12.1) scale(0.736 1)" text-anchor="middle" font-family="Liberation Serif, serif" font-weight="bold" font-size="22.5" fill="#231f20" stroke="#231f20" stroke-width="1.1">I</text>
<text transform="translate(697.6 859.4) rotate(17.4) scale(0.736 1)" text-anchor="middle" font-family="Liberation Serif, serif" font-weight="bold" font-size="22.5" fill="#231f20" stroke="#231f20" stroke-width="1.1">O</text>
<text transform="translate(709.2 863.8) rotate(24.5) scale(0.736 1)" text-anchor="middle" font-family="Liberation Serif, serif" font-weight="bold" font-size="22.5" fill="#231f20" stroke="#231f20" stroke-width="1.1">N</text>
<text transform="translate(719.8 869.4) rotate(31.2) scale(0.736 1)" text-anchor="middle" font-family="Liberation Serif, serif" font-weight="bold" font-size="22.5" fill="#231f20" stroke="#231f20" stroke-width="1.1">A</text>
<text transform="translate(729.3 875.9) rotate(37.4) scale(0.736 1)" text-anchor="middle" font-family="Liberation Serif, serif" font-weight="bold" font-size="22.5" fill="#231f20" stroke="#231f20" stroke-width="1.1">L</text>
<text transform="translate(750.1 897.4) rotate(54.5) scale(0.715 1)" text-anchor="middle" font-family="Liberation Serif, serif" font-weight="bold" font-size="22.5" fill="#231f20" stroke="#231f20" stroke-width="1.1">B</text>
<text transform="translate(755.9 906.4) rotate(60.2) scale(0.715 1)" text-anchor="middle" font-family="Liberation Serif, serif" font-weight="bold" font-size="22.5" fill="#231f20" stroke="#231f20" stroke-width="1.1">L</text>
<text transform="translate(761.1 916.8) rotate(66.9) scale(0.715 1)" text-anchor="middle" font-family="Liberation Serif, serif" font-weight="bold" font-size="22.5" fill="#231f20" stroke="#231f20" stroke-width="1.1">O</text>
<text transform="translate(765.2 928.2) rotate(73.6) scale(0.715 1)" text-anchor="middle" font-family="Liberation Serif, serif" font-weight="bold" font-size="22.5" fill="#231f20" stroke="#231f20" stroke-width="1.1">C</text>
<text transform="translate(767.9 939.9) rotate(80.2) scale(0.715 1)" text-anchor="middle" font-family="Liberation Serif, serif" font-weight="bold" font-size="22.5" fill="#231f20" stroke="#231f20" stroke-width="1.1">K</text>
<text transform="translate(825.3 941.9) rotate(74.9) scale(0.680 1)" text-anchor="middle" font-family="Liberation Serif, serif" font-weight="bold" font-size="26" fill="#231f20" stroke="#231f20" stroke-width="1.2">C</text>
<text transform="translate(829.6 956.4) rotate(72.4) scale(0.680 1)" text-anchor="middle" font-family="Liberation Serif, serif" font-weight="bold" font-size="26" fill="#231f20" stroke="#231f20" stroke-width="1.2">O</text>
<text transform="translate(834.3 970.2) rotate(69.9) scale(0.680 1)" text-anchor="middle" font-family="Liberation Serif, serif" font-weight="bold" font-size="26" fill="#231f20" stroke="#231f20" stroke-width="1.2">L</text>
<text transform="translate(839.7 983.8) rotate(67.3) scale(0.680 1)" text-anchor="middle" font-family="Liberation Serif, serif" font-weight="bold" font-size="26" fill="#231f20" stroke="#231f20" stroke-width="1.2">O</text>
<text transform="translate(846 997.6) rotate(64.1) scale(0.680 1)" text-anchor="middle" font-family="Liberation Serif, serif" font-weight="bold" font-size="26" fill="#231f20" stroke="#231f20" stroke-width="1.2">R</text>
<text transform="translate(852.6 1010.6) rotate(61.5) scale(0.680 1)" text-anchor="middle" font-family="Liberation Serif, serif" font-weight="bold" font-size="26" fill="#231f20" stroke="#231f20" stroke-width="1.2">A</text>
<text transform="translate(859.9 1023.3) rotate(58.8) scale(0.680 1)" text-anchor="middle" font-family="Liberation Serif, serif" font-weight="bold" font-size="26" fill="#231f20" stroke="#231f20" stroke-width="1.2">D</text>
<text transform="translate(868.1 1036) rotate(56.2) scale(0.680 1)" text-anchor="middle" font-family="Liberation Serif, serif" font-weight="bold" font-size="26" fill="#231f20" stroke="#231f20" stroke-width="1.2">O</text>
<text transform="translate(880 1052.5) rotate(52) scale(0.680 1)" text-anchor="middle" font-family="Liberation Serif, serif" font-weight="bold" font-size="26" fill="#231f20" stroke="#231f20" stroke-width="1.2">P</text>
<text transform="translate(888.3 1062.7) rotate(49.9) scale(0.680 1)" text-anchor="middle" font-family="Liberation Serif, serif" font-weight="bold" font-size="26" fill="#231f20" stroke="#231f20" stroke-width="1.2">L</text>
<text transform="translate(897.7 1073.3) rotate(47.3) scale(0.680 1)" text-anchor="middle" font-family="Liberation Serif, serif" font-weight="bold" font-size="26" fill="#231f20" stroke="#231f20" stroke-width="1.2">A</text>
<text transform="translate(907.6 1083.4) rotate(44.6) scale(0.680 1)" text-anchor="middle" font-family="Liberation Serif, serif" font-weight="bold" font-size="26" fill="#231f20" stroke="#231f20" stroke-width="1.2">T</text>
<text transform="translate(917.5 1092.7) rotate(41.9) scale(0.680 1)" text-anchor="middle" font-family="Liberation Serif, serif" font-weight="bold" font-size="26" fill="#231f20" stroke="#231f20" stroke-width="1.2">E</text>
<text transform="translate(928.3 1101.9) rotate(39.1) scale(0.680 1)" text-anchor="middle" font-family="Liberation Serif, serif" font-weight="bold" font-size="26" fill="#231f20" stroke="#231f20" stroke-width="1.2">A</text>
<text transform="translate(939.9 1110.8) rotate(36.4) scale(0.680 1)" text-anchor="middle" font-family="Liberation Serif, serif" font-weight="bold" font-size="26" fill="#231f20" stroke="#231f20" stroke-width="1.2">U</text>
<text transform="translate(957.2 1122.5) rotate(31.8) scale(0.680 1)" text-anchor="middle" font-family="Liberation Serif, serif" font-weight="bold" font-size="26" fill="#231f20" stroke="#231f20" stroke-width="1.2">R</text>
<text transform="translate(970.3 1130.1) rotate(28.9) scale(0.680 1)" text-anchor="middle" font-family="Liberation Serif, serif" font-weight="bold" font-size="26" fill="#231f20" stroke="#231f20" stroke-width="1.2">O</text>
<text transform="translate(983.3 1136.8) rotate(25.3) scale(0.680 1)" text-anchor="middle" font-family="Liberation Serif, serif" font-weight="bold" font-size="26" fill="#231f20" stroke="#231f20" stroke-width="1.2">T</text>
<text transform="translate(996.2 1142.6) rotate(22.3) scale(0.680 1)" text-anchor="middle" font-family="Liberation Serif, serif" font-weight="bold" font-size="26" fill="#231f20" stroke="#231f20" stroke-width="1.2">A</text>
<text transform="translate(1009.4 1147.6) rotate(19.2) scale(0.680 1)" text-anchor="middle" font-family="Liberation Serif, serif" font-weight="bold" font-size="26" fill="#231f20" stroke="#231f20" stroke-width="1.2">T</text>
<text transform="translate(1020 1151.1) rotate(16.7) scale(0.680 1)" text-anchor="middle" font-family="Liberation Serif, serif" font-weight="bold" font-size="26" fill="#231f20" stroke="#231f20" stroke-width="1.2">I</text>
<text transform="translate(1031.7 1154.4) rotate(14.1) scale(0.680 1)" text-anchor="middle" font-family="Liberation Serif, serif" font-weight="bold" font-size="26" fill="#231f20" stroke="#231f20" stroke-width="1.2">O</text>
<text transform="translate(1046.5 1157.6) rotate(10.9) scale(0.680 1)" text-anchor="middle" font-family="Liberation Serif, serif" font-weight="bold" font-size="26" fill="#231f20" stroke="#231f20" stroke-width="1.2">N</text>
<path d="M123.8 763.2 L134.9 730.9 L192.9 798.6" fill="none" stroke="#231f20" stroke-width="10.5" stroke-linejoin="miter" stroke-miterlimit="10"/>
<path d="M418.6 996 L414.2 962.4 L495.7 1002.5" fill="none" stroke="#231f20" stroke-width="10.5" stroke-linejoin="miter" stroke-miterlimit="10"/>
<path d="M611.1 1123.9 L616.4 1087.8 L681.1 1154.6" fill="none" stroke="#231f20" stroke-width="9.5" stroke-linejoin="miter" stroke-miterlimit="10"/>
<path d="M686.6 1330.8 L706.3 1301.3 L734.1 1391.8" fill="none" stroke="#231f20" stroke-width="9" stroke-linejoin="miter" stroke-miterlimit="10"/>
<path d="M760.3 756.7 L775 771.7 L789.9 717.7" fill="none" stroke="#231f20" stroke-width="7.5" stroke-linejoin="miter" stroke-miterlimit="10"/>
<path d="M845.6 746 L834 732.9 L820.3 784.6" fill="none" stroke="#231f20" stroke-width="7.5" stroke-linejoin="miter" stroke-miterlimit="10"/>
<path d="M794 1070 L754 1226" fill="none" stroke="#231f20" stroke-width="10" />
<path d="M805.6 1033.2 L767 1083.6 L790.8 1076.6 L813.9 1096.5 Z" fill="#231f20" stroke="none" stroke-width="0" />
<path d="M536 430.5 L918 430.5" fill="none" stroke="#231f20" stroke-width="4.4" />
<path d="M557.5 411.5 L537 430.5 L557.5 449" fill="none" stroke="#231f20" stroke-width="4.4" stroke-linejoin="miter"/>
<path d="M897.3 412.2 L916.3 430.5 L897.3 448.9" fill="none" stroke="#231f20" stroke-width="4.4" stroke-linejoin="miter"/>
<path d="M1354 998.6 L1444 998.6" fill="none" stroke="#231f20" stroke-width="4.4" />
<path d="M1375.5 979.7 L1355.5 998.6 L1375.5 1018.2" fill="none" stroke="#231f20" stroke-width="4.4" stroke-linejoin="miter"/>
<path d="M1424 979.8 L1443.6 998.4 L1424 1017.7" fill="none" stroke="#231f20" stroke-width="4.4" stroke-linejoin="miter"/>
<path d="M1182.5 357.5 L1206.1 345.8 L1218.3 367.5" fill="none" stroke="#231f20" stroke-width="4.6" stroke-linejoin="miter" stroke-miterlimit="10"/>
<path d="M1177.5 371.7 L1188 392.6 L1212.5 383.3" fill="none" stroke="#231f20" stroke-width="4.6" stroke-linejoin="miter" stroke-miterlimit="10"/>
<path d="M1206.1 345.8 L1188 392.6" fill="none" stroke="#231f20" stroke-width="4.6" />
<path d="M1242.5 345.8 L1232 353.1 L1267.5 364.2" fill="none" stroke="#231f20" stroke-width="4.6" stroke-linejoin="miter" stroke-miterlimit="10"/>
<path d="M1223.3 373.3 L1258.8 385.5 L1247.5 393.3" fill="none" stroke="#231f20" stroke-width="4.6" stroke-linejoin="miter" stroke-miterlimit="10"/>
<path d="M645.9 533.3 L1082.5 401.3" fill="none" stroke="#231f20" stroke-width="1.4" />
<path d="M1088.7 399.2 L1079.6 397 L1082.2 401.4 L1082.2 405.7 Z" fill="#231f20" stroke="none" stroke-width="0" />
<path d="M609.6 578.6 L737.8 766" fill="none" stroke="#231f20" stroke-width="1.4" />
<path d="M740.4 770.7 L739.6 761.1 L737.8 766 L732.2 766.4 Z" fill="#231f20" stroke="none" stroke-width="0" />
<path d="M329.5 940 L576 863.5" fill="none" stroke="#231f20" stroke-width="2.7" />
<path d="M593 858.3 L565.3 852.2 L574.5 864 L573.3 878.3 Z" fill="#231f20" stroke="none" stroke-width="0" />
<path d="M1424.8 467.5 L1284 388" fill="none" stroke="#231f20" stroke-width="3" />
<path d="M1271.8 380.9 L1298.7 381 L1285.7 388.8 L1285.6 403.9 Z" fill="#231f20" stroke="none" stroke-width="0" />
<path d="M1013.2 541 L1052.8 518.8" fill="none" stroke="#444" stroke-width="1.5" />
<path d="M1052 668.2 L1090.5 645.7" fill="none" stroke="#444" stroke-width="1.5" />
<text id="t0" x="82.01" y="98.4" font-family="Liberation Sans, sans-serif" font-size="84" font-weight="bold" fill="#231f20" textLength="63.91" lengthAdjust="spacingAndGlyphs" stroke="#231f20" stroke-width="2.6">C</text>
<text id="t1" x="146.15" y="98.4" font-family="Liberation Sans, sans-serif" font-size="84" font-weight="bold" fill="#231f20" textLength="80.13" lengthAdjust="spacingAndGlyphs" stroke="#231f20" stroke-width="2.6">O</text>
<text id="t2" x="230.16" y="98.4" font-family="Liberation Sans, sans-serif" font-size="84" font-weight="bold" fill="#231f20" textLength="55.35" lengthAdjust="spacingAndGlyphs" stroke="#231f20" stroke-width="2.6">L</text>
<text id="t3" x="283.86" y="98.4" font-family="Liberation Sans, sans-serif" font-size="84" font-weight="bold" fill="#231f20" textLength="79.34" lengthAdjust="spacingAndGlyphs" stroke="#231f20" stroke-width="2.6">O</text>
<text id="t4" x="366.38" y="98.4" font-family="Liberation Sans, sans-serif" font-size="84" font-weight="bold" fill="#231f20" textLength="62.10" lengthAdjust="spacingAndGlyphs" stroke="#231f20" stroke-width="2.6">R</text>
<text id="t5" x="430.79" y="98.4" font-family="Liberation Sans, sans-serif" font-size="84" font-weight="bold" fill="#231f20" textLength="75.03" lengthAdjust="spacingAndGlyphs" stroke="#231f20" stroke-width="2.6">A</text>
<text id="t6" x="509.43" y="98.4" font-family="Liberation Sans, sans-serif" font-size="84" font-weight="bold" fill="#231f20" textLength="78.69" lengthAdjust="spacingAndGlyphs" stroke="#231f20" stroke-width="2.6">D</text>
<text id="t7" x="590.03" y="98.4" font-family="Liberation Sans, sans-serif" font-size="84" font-weight="bold" fill="#231f20" textLength="80.24" lengthAdjust="spacingAndGlyphs" stroke="#231f20" stroke-width="2.6">O</text>
<text id="t8" x="696.34" y="98.4" font-family="Liberation Sans, sans-serif" font-size="84" font-weight="bold" fill="#231f20" textLength="62.72" lengthAdjust="spacingAndGlyphs" stroke="#231f20" stroke-width="2.6">P</text>
<text id="t9" x="763.10" y="98.4" font-family="Liberation Sans, sans-serif" font-size="84" font-weight="bold" fill="#231f20" textLength="54.58" lengthAdjust="spacingAndGlyphs" stroke="#231f20" stroke-width="2.6">L</text>
<text id="t10" x="822.10" y="98.4" font-family="Liberation Sans, sans-serif" font-size="84" font-weight="bold" fill="#231f20" textLength="71.03" lengthAdjust="spacingAndGlyphs" stroke="#231f20" stroke-width="2.6">A</text>
<text id="t11" x="888.00" y="98.4" font-family="Liberation Sans, sans-serif" font-size="84" font-weight="bold" fill="#231f20" textLength="58.49" lengthAdjust="spacingAndGlyphs" stroke="#231f20" stroke-width="2.6">T</text>
<text id="t12" x="952.06" y="98.4" font-family="Liberation Sans, sans-serif" font-size="84" font-weight="bold" fill="#231f20" textLength="54.25" lengthAdjust="spacingAndGlyphs" stroke="#231f20" stroke-width="2.6">E</text>
<text id="t13" x="1011.68" y="98.4" font-family="Liberation Sans, sans-serif" font-size="84" font-weight="bold" fill="#231f20" textLength="71.85" lengthAdjust="spacingAndGlyphs" stroke="#231f20" stroke-width="2.6">A</text>
<text id="t14" x="1085.00" y="98.4" font-family="Liberation Sans, sans-serif" font-size="84" font-weight="bold" fill="#231f20" textLength="73.02" lengthAdjust="spacingAndGlyphs" stroke="#231f20" stroke-width="2.6">U</text>
<text id="t15" x="1185.63" y="98.4" font-family="Liberation Sans, sans-serif" font-size="84" font-weight="bold" fill="#231f20" textLength="63.77" lengthAdjust="spacingAndGlyphs" stroke="#231f20" stroke-width="2.6">R</text>
<text id="t16" x="1251.77" y="98.4" font-family="Liberation Sans, sans-serif" font-size="84" font-weight="bold" fill="#231f20" textLength="84.83" lengthAdjust="spacingAndGlyphs" stroke="#231f20" stroke-width="2.6">O</text>
<text id="t17" x="1331.89" y="98.4" font-family="Liberation Sans, sans-serif" font-size="84" font-weight="bold" fill="#231f20" textLength="58.50" lengthAdjust="spacingAndGlyphs" stroke="#231f20" stroke-width="2.6">T</text>
<text id="t18" x="1385.89" y="98.4" font-family="Liberation Sans, sans-serif" font-size="84" font-weight="bold" fill="#231f20" textLength="71.03" lengthAdjust="spacingAndGlyphs" stroke="#231f20" stroke-width="2.6">A</text>
<text id="t19" x="1452.09" y="98.4" font-family="Liberation Sans, sans-serif" font-size="84" font-weight="bold" fill="#231f20" textLength="58.51" lengthAdjust="spacingAndGlyphs" stroke="#231f20" stroke-width="2.6">T</text>
<text id="t20" x="1515.06" y="98.4" font-family="Liberation Sans, sans-serif" font-size="84" font-weight="bold" fill="#231f20" textLength="29.53" lengthAdjust="spacingAndGlyphs" stroke="#231f20" stroke-width="2.6">I</text>
<text id="t21" x="1546.87" y="98.4" font-family="Liberation Sans, sans-serif" font-size="84" font-weight="bold" fill="#231f20" textLength="80.16" lengthAdjust="spacingAndGlyphs" stroke="#231f20" stroke-width="2.6">O</text>
<text id="t22" x="1633.14" y="98.4" font-family="Liberation Sans, sans-serif" font-size="84" font-weight="bold" fill="#231f20" textLength="71.12" lengthAdjust="spacingAndGlyphs" stroke="#231f20" stroke-width="2.6">N</text>
<text id="t23" x="139.49" y="161.7" font-family="Liberation Sans, sans-serif" font-size="38.5" font-weight="normal" fill="#231f20" textLength="1555.40" lengthAdjust="spacingAndGlyphs" >Middle to late Cenozoic rotation of the Colorado Plateau creates both extensional and com-</text>
<text id="t24" x="280.49" y="210.8" font-family="Liberation Sans, sans-serif" font-size="38.5" font-weight="normal" fill="#231f20" textLength="1276.44" lengthAdjust="spacingAndGlyphs" >pressional folding, beyond the traditional ‘Laramide’ compressional regime.</text>
<text id="t25" x="585.16" y="392.9" font-family="Liberation Sans, sans-serif" font-size="34.5" font-weight="bold" fill="#231f20" textLength="198.37" lengthAdjust="spacingAndGlyphs"  stroke="#231f20" stroke-width="0.8">EXTENSION</text>
<text id="t26" x="1208.16" y="338.3" font-family="Liberation Sans, sans-serif" font-size="34.5" font-weight="bold" fill="#231f20" textLength="197.88" lengthAdjust="spacingAndGlyphs"  stroke="#231f20" stroke-width="0.8">EXTENSION</text>
<text id="t27" x="1385.87" y="963.5" font-family="Liberation Sans, sans-serif" font-size="35" font-weight="bold" fill="#231f20" textLength="196.16" lengthAdjust="spacingAndGlyphs"  stroke="#231f20" stroke-width="0.8">EXTENSION</text>
<text id="t28" x="1434.19" y="463.6" font-family="Liberation Sans, sans-serif" font-size="23.5" font-weight="bold" fill="#231f20" textLength="158.77" lengthAdjust="spacingAndGlyphs"  stroke="#231f20" stroke-width="0.6">(Browns Park</text>
<text id="t29" x="1469.40" y="488.4" font-family="Liberation Sans, sans-serif" font-size="23.5" font-weight="bold" fill="#231f20" textLength="88.40" lengthAdjust="spacingAndGlyphs"  stroke="#231f20" stroke-width="0.6">Grabin)</text>
<text id="t30" x="1380.08" y="1062.3" font-family="Liberation Sans, sans-serif" font-size="23.5" font-weight="bold" fill="#231f20" textLength="142.32" lengthAdjust="spacingAndGlyphs"  stroke="#231f20" stroke-width="0.6">(Rio Grande</text>
<text id="t31" x="1425.75" y="1087" font-family="Liberation Sans, sans-serif" font-size="23.5" font-weight="bold" fill="#231f20" textLength="50.68" lengthAdjust="spacingAndGlyphs"  stroke="#231f20" stroke-width="0.6">Rift)</text>
<text id="t32" x="811.49" y="867.5" font-family="Liberation Sans, sans-serif" font-size="18" font-weight="bold" fill="#231f20" textLength="111.71" lengthAdjust="spacingAndGlyphs"  stroke="#231f20" stroke-width="0.6">(Grand Wash</text>
<text id="t33" x="801.59" y="893.2" font-family="Liberation Sans, sans-serif" font-size="18" font-weight="bold" fill="#231f20" textLength="135.31" lengthAdjust="spacingAndGlyphs"  stroke="#231f20" stroke-width="0.6">begins to open)</text>
<text id="t34" x="433.98" y="545.6" font-family="Liberation Sans, sans-serif" font-size="18" font-weight="normal" fill="#231f20" textLength="208.11" lengthAdjust="spacingAndGlyphs" >Left-lateral displacement</text>
<text id="t35" x="437.99" y="566.4" font-family="Liberation Sans, sans-serif" font-size="18" font-weight="normal" fill="#231f20" textLength="201.52" lengthAdjust="spacingAndGlyphs" >of Colorado/Green River</text>
<text id="t36" x="491.79" y="586" font-family="Liberation Sans, sans-serif" font-size="18" font-weight="normal" fill="#231f20" textLength="94.62" lengthAdjust="spacingAndGlyphs" >on margins</text>
<text id="t37" x="1020.46" y="510.7" font-family="Liberation Sans, sans-serif" font-size="22.5" font-weight="normal" fill="#231f20" textLength="134.17" lengthAdjust="spacingAndGlyphs" >(35-30 mya)</text>
<text id="t38" x="1070.45" y="639.5" font-family="Liberation Sans, sans-serif" font-size="22.5" font-weight="normal" fill="#231f20" textLength="105.72" lengthAdjust="spacingAndGlyphs" >(5-0 mya)</text>
<text id="t39" x="458.03" y="978.4" font-family="Liberation Sans, sans-serif" font-size="20" font-weight="normal" fill="#3aade0" textLength="114.90" lengthAdjust="spacingAndGlyphs" >(35-30 mya)</text>
<text id="t40" x="615.23" y="1075" font-family="Liberation Sans, sans-serif" font-size="20" font-weight="normal" fill="#3aade0" textLength="94.63" lengthAdjust="spacingAndGlyphs" >(5-0 mya)</text>
<text id="t41" x="56.60" y="919.1" font-family="Liberation Sans, sans-serif" font-size="31.5" font-weight="bold" fill="#231f20" textLength="249.40" lengthAdjust="spacingAndGlyphs"  stroke="#231f20" stroke-width="0.8">Colorado River</text>
<text id="t42" x="80.20" y="956.7" font-family="Liberation Sans, sans-serif" font-size="31.5" font-weight="bold" fill="#231f20" textLength="204.31" lengthAdjust="spacingAndGlyphs"  stroke="#231f20" stroke-width="0.8">western exit</text>
<text id="t43" x="98.87" y="985.7" font-family="Liberation Sans, sans-serif" font-size="24" font-weight="normal" fill="#231f20" textLength="178.57" lengthAdjust="spacingAndGlyphs" >(weaver model)</text>
<text id="t44" x="71.18" y="1187.5" font-family="Liberation Sans, sans-serif" font-size="33" font-weight="normal" fill="#231f20" textLength="361.64" lengthAdjust="spacingAndGlyphs" >Basement movement of</text>
<text id="t45" x="98.79" y="1225" font-family="Liberation Sans, sans-serif" font-size="33" font-weight="normal" fill="#231f20" textLength="308.52" lengthAdjust="spacingAndGlyphs" >San Andreas rupture</text>
<text id="t46" x="75.59" y="1263.3" font-family="Liberation Sans, sans-serif" font-size="33" font-weight="normal" fill="#231f20" textLength="351.63" lengthAdjust="spacingAndGlyphs" >causes rotation of Colo-</text>
<text id="t47" x="96.77" y="1301.4" font-family="Liberation Sans, sans-serif" font-size="33" font-weight="normal" fill="#231f20" textLength="312.64" lengthAdjust="spacingAndGlyphs" >rado Plateau into Pli-</text>
<text id="t48" x="158.06" y="1339.4" font-family="Liberation Sans, sans-serif" font-size="33" font-weight="normal" fill="#231f20" textLength="192.64" lengthAdjust="spacingAndGlyphs" >coene times.</text>
<text id="t49" x="1604.09" y="1309.1" font-family="Liberation Sans, sans-serif" font-size="16.5" font-weight="normal" fill="#231f20" textLength="111.31" lengthAdjust="spacingAndGlyphs" >by Lance Weaver</text>
<text id="t50" x="1420.68" y="1343.3" font-family="Liberation Sans, sans-serif" font-size="37" font-weight="bold" fill="#2a2627" textLength="310.66" lengthAdjust="spacingAndGlyphs" filter="url(#sh)" stroke="#2a2627" stroke-width="0.8">UtahGeology.com</text>
</svg>
</body></html>
